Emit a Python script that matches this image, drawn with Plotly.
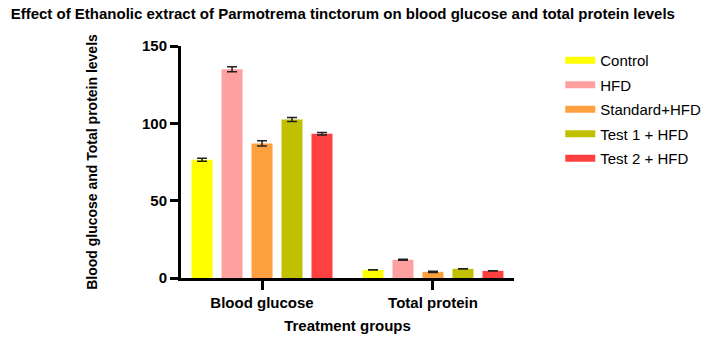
import plotly.graph_objects as go

categories = ["Blood glucose", "Total protein"]
groups = ["Control", "HFD", "Standard+HFD", "Test 1 + HFD", "Test 2 + HFD"]
colors = ["#FFFF00", "#FFA0A0", "#FFA040", "#C0C000", "#FF4040"]
values = {
    "Control": [76.5, 5.2],
    "HFD": [135.0, 11.8],
    "Standard+HFD": [87.0, 4.0],
    "Test 1 + HFD": [102.5, 5.9],
    "Test 2 + HFD": [93.3, 4.6],
}
errors = {
    "Control": [1.0, 0.1],
    "HFD": [1.6, 0.3],
    "Standard+HFD": [1.7, 0.4],
    "Test 1 + HFD": [1.3, 0.1],
    "Test 2 + HFD": [0.8, 0.1],
}

font_family = "Arial, Liberation Sans, sans-serif"

fig = go.Figure()
for g, c in zip(groups, colors):
    fig.add_trace(go.Bar(
        name=g, x=categories, y=values[g], marker_color=c, marker_line_width=0,
        showlegend=False,
        error_y=dict(type="data", array=errors[g], visible=True, color="#222222",
                     thickness=1.5, width=5),
    ))
# legend entries with wide flat swatches
for g, c in zip(groups, colors):
    fig.add_trace(go.Scatter(
        name=g, x=[None], y=[None], mode="lines", legendgroup=g,
        line=dict(color=c, width=7), hoverinfo="skip",
    ))

fig.update_layout(
    width=711, height=349,
    margin=dict(l=181, r=197, t=46, b=71, autoexpand=False),
    paper_bgcolor="white", plot_bgcolor="white",
    barmode="group", bargap=0.123, bargroupgap=0.3,
    font=dict(family=font_family, color="black"),
    title=dict(text="<b>Effect of Ethanolic extract of Parmotrema tinctorum on blood glucose and total protein levels</b>",
               x=0.015, xanchor="left", y=0.96, yanchor="middle",
               font=dict(size=15, family=font_family, color="black")),
    xaxis=dict(
        range=[-0.474, 1.474], showline=True, linecolor="black", linewidth=3,
        ticks="outside", ticklen=9, tickwidth=3, tickcolor="black",
        tickfont=dict(size=15, family=font_family, color="black", weight="bold"),
        title=dict(text="<b>Treatment groups</b>", font=dict(size=15), standoff=11),
        showgrid=False, zeroline=False,
    ),
    yaxis=dict(
        range=[0, 150], tickvals=[0, 50, 100, 150], showline=True, linecolor="black",
        linewidth=3, ticks="outside", ticklen=8, tickwidth=3, tickcolor="black",
        tickfont=dict(size=15, family=font_family, color="black", weight="bold"),
        title=dict(text="<b>Blood glucose and Total protein levels</b>", font=dict(size=14), standoff=42),
        showgrid=False, zeroline=False,
    ),
    legend=dict(xref="container", x=0.788, xanchor="left", yref="container", y=0.874, yanchor="top",
                font=dict(size=15, family=font_family, color="black"),
                tracegroupgap=2, itemwidth=30),
)

fig.write_html("out.html")
